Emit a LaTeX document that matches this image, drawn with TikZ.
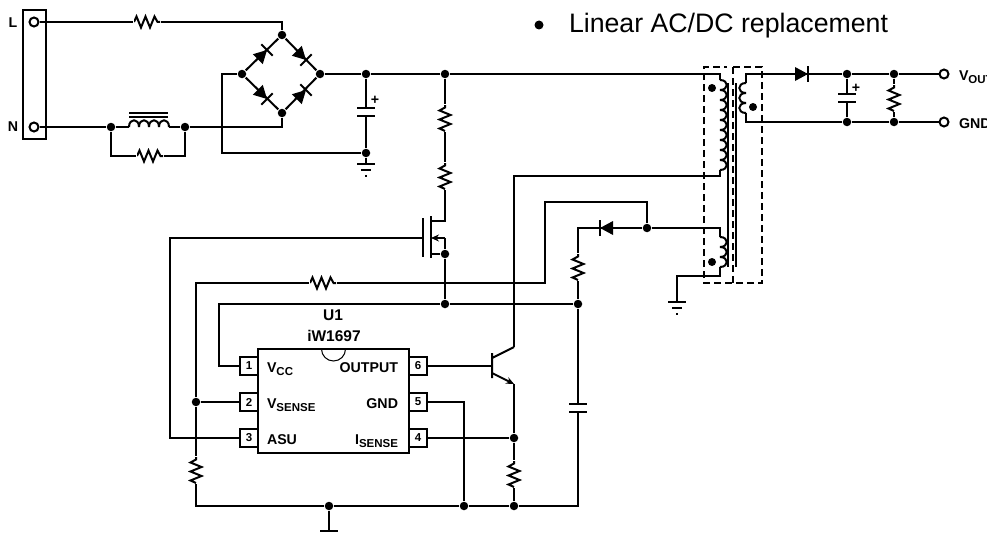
\documentclass[tikz,border=0pt]{standalone}
\usepackage{fontspec}
\usetikzlibrary{arrows.meta}
\setmainfont{Liberation Sans}
\newcommand{\subtxt}[1]{\raisebox{-3.5pt}{\fontsize{11.5}{11.5}\selectfont #1}}
\tikzset{
  dotj/.style={circle,fill=black,inner sep=0pt,minimum size=8.5pt},
  mark dot/.style={circle,fill=black,inner sep=0pt,minimum size=8pt},
  term/.style={circle,draw,inner sep=0pt,minimum size=9pt},
  res/.style={minimum width=26pt,minimum height=16pt,inner sep=0pt,
    path picture={\draw[line width=2pt,shift={(path picture bounding box.center)}]
      (-13,0)--(-10.5,-5.5)--(-6,5.5)--(-1.5,-5.5)--(3,5.5)--(7.5,-5.5)--(10.5,0)--(13,0);}},
  pin/.style={draw,fill=white,inner sep=0pt,minimum size=18pt,font=\fontsize{11.5}{11.5}\bfseries},
  lbl/.style={inner sep=0pt,anchor=base west,font=\fontsize{14.2}{14.2}\bfseries},
  lblr/.style={inner sep=0pt,anchor=base east,font=\fontsize{14.2}{14.2}\bfseries},
  diode/.pic={\fill (-13,-7)--(0,0)--(-13,7)--cycle; \draw (0,-8)--(0,8);},
  capa/.pic={\draw (-9,-4.2)--(9,-4.2) (-9,4.2)--(9,4.2);},
  gnd/.pic={\draw (-9,0)--(9,0) (-5,6)--(5,6) (-1,12)--(1,12);},
  coil/.pic={\foreach \k in {1,...,#1}{\draw (0,{(\k-1)*\coilstep}) .. controls +(\coilbulge,0) and +(\coilbulge,0) .. +(0,\coilstep);}},
}
\newcommand{\coilstep}{10}
\newcommand{\coilbulge}{9}
\begin{document}
\begin{tikzpicture}[x=1pt,y=-1pt,>={Stealth[length=8pt,width=7pt]},line width=2pt]
\useasboundingbox (0,0) rectangle (987,535);

\node[circle,fill=black,inner sep=0pt,minimum size=9pt] (bul) at (539,25) {};
\node[inner sep=0pt,anchor=base west,font=\fontsize{26.7}{27}\selectfont] (title) at (568,33) {Linear AC/DC replacement};

\node[draw,minimum width=23pt,minimum height=129pt,inner sep=0pt] (strip) at (34.5,74.5) {};
\node[term] (tl) at (34,22) {};
\node[term] (tn) at (34,127) {};
\node[term] (tv) at (944,74) {};
\node[term] (tg) at (944,122) {};
\node[lbl,anchor=center] (ll) at (13,23) {L};
\node[lbl,anchor=center] (ln) at (13,127) {N};
\node[lbl] (lv) at (958,80) {V\subtxt{OUT}};
\node[lbl] (lg) at (958,128) {GND};
\node[lbl,anchor=center] (p1) at (375,100) {+};
\node[lbl,anchor=center] (p2) at (856,88) {+};

\foreach \nm/\xx/\yy in {jt/282/35,jr/320/74,jb/282/113,jl/242/74,ja/111/127,jc/185/127,jd/366/74,je/366/153,
  jf/445/74,jg/445/254,jh/445/304,ji/578/304,jk/647/228,jm/196/402,jn/514/438,jo/329/506,jp/464/506,jq/514/506,
  js/847/74,ju/894/74,jv/847/122,jw/894/122}
  \node[dotj] (\nm) at (\xx,\yy) {};

\node[res] (r1) at (147,22) {};
\node[res] (r2) at (150,156) {};
\node[res,rotate=90] (r3) at (445,118) {};
\node[res,rotate=90] (r4) at (445,176) {};
\node[res] (r5) at (323,283) {};
\node[res,rotate=90] (r6) at (196,470) {};
\node[res,rotate=90] (r7) at (578,267) {};
\node[res,rotate=90] (r8) at (514,474) {};
\node[res,rotate=90] (r9) at (894,98) {};

\coordinate (l1a) at (129,127);
\coordinate (l1b) at (169,127);
\coordinate (k1) at (222,153);
\coordinate (c1t) at (366,108);
\coordinate (c1b) at (366,116.5);
\coordinate (g1) at (366,164);
\coordinate (p1t) at (720,80);
\coordinate (p1b) at (720,170);
\coordinate (p1e) at (720,176);
\coordinate (s1) at (746,74);
\coordinate (st) at (746,83);
\coordinate (sb) at (746,113);
\coordinate (s2) at (746,122);
\coordinate (p3t) at (720,237);
\coordinate (p3b) at (720,267);
\coordinate (p3c) at (720,228);
\coordinate (p3e) at (720,276);
\coordinate (g2) at (677,302);
\coordinate (g3) at (329,531);
\coordinate (c2t) at (847,94);
\coordinate (c2b) at (847,102);
\coordinate (c3t) at (578,404);
\coordinate (c3b) at (578,412);
\coordinate (k2) at (578,228);
\coordinate (k3) at (578,506);
\coordinate (k4) at (545,202);
\coordinate (k5) at (170,438);
\coordinate (k6) at (219,366);
\coordinate (md) at (431,221);
\coordinate (md2) at (445,221);
\coordinate (ms) at (431,238);
\coordinate (ms2) at (445,238);
\coordinate (mo) at (431,254);
\coordinate (mg) at (423,238);
\coordinate (qb) at (492,366);
\coordinate (qc1) at (492,358);
\coordinate (qc) at (514,347);
\coordinate (qe1) at (492,373);
\coordinate (qe) at (514,384);

\node[draw,minimum width=151pt,minimum height=104pt,inner sep=0pt] (ic) at (333.5,401) {};
\foreach \nn/\yy in {1/366,2/402,3/438}
  \node[pin] (pin\nn) at (249,\yy) {\nn};
\foreach \nn/\yy in {6/366,5/402,4/438}
  \node[pin] (pin\nn) at (418,\yy) {\nn};
\draw[line width=1pt] (321.5,349) arc (180:0:12);

\node[lblr,anchor=center,font=\fontsize{15.5}{15.5}\bfseries] (u1) at (333,315) {U1};
\node[lblr,anchor=center,font=\fontsize{15.5}{15.5}\bfseries] (u2) at (334,336) {iW1697};
\node[lbl] (vcc) at (266,372) {V\subtxt{CC}};
\node[lbl] (vse) at (266,408) {V\subtxt{SENSE}};
\node[lbl] (asu) at (266,444) {ASU};
\node[lblr] (out) at (399,372) {OUTPUT};
\node[lblr] (gnd5) at (399,408) {GND};
\node[lblr] (ise) at (399,444) {I\subtxt{SENSE}};

\draw (tl) -- (r1) -| (jt);
\draw (tn) -- (ja) -- (l1a);
\draw (l1b) -- (jc) -| (jb);
\draw (ja) |- (r2) -| (jc);
\draw (jl) -- (jt) -- (jr) -- (jb) -- (jl);
\draw (jl) -| (k1) -- (je);
\draw (jr) -- (jd) -- (jf) -| (p1t);
\draw (jd) -- (c1t) (c1b) -- (je) -- (g1);
\draw (jf) -- (r3) -- (r4) -- (md2) -- (md);
\draw (431,216) -- (431,258) (423,218) -- (423,257);
\draw[<-] (ms) -- (ms2);
\draw (ms2) -- (jg);
\draw (mo) -- (jg) -- (jh);
\draw (mg) -| (k5) -- (pin3);
\draw (jh) -- (ji);
\draw (jh) -| (k6) -- (pin1);
\draw (jm) |- (r5);
\draw (r5) -| (k4) -| (jk);
\draw (jm) -- (pin2);
\draw (jm) -- (r6) |- (jo);
\draw (jo) -- (jp) -- (jq) -- (k3) -- (c3b) (c3t) -- (ji);
\draw (ji) -- (r7) -- (k2) -- (jk) -- (p3c) -- (p3t);
\draw (p3b) -- (p3e) -| (g2);
\draw (jo) -- (g3);
\draw (g3) ++(-9,0) -- ++(18,0);
\draw (p1b) -- (p1e) -| (qc);
\draw (qc) -- (qc1) (492,353) -- (492,378);
\draw (pin6) -- (qb);
\draw[->] (qe1) -- (qe);
\draw (qe) -- (jn) -- (r8) -- (jq);
\draw (pin4) -- (jn);
\draw (pin5) -| (jp);
\draw (st) -- (s1) -- (js) -- (ju) -- (tv);
\draw (sb) -- (s2) -- (jv) -- (jw) -- (tg);
\draw (js) -- (c2t) (c2b) -- (jv);
\draw (ju) -- (r9) -- (jw);

\path (366,112.2) pic {capa};
\path (847,98) pic {capa};
\path (578,408) pic {capa};
\path (g1) pic {gnd};
\path (g2) pic {gnd};
\path (267,50) pic[rotate=45] {diode};
\path (306,60) pic[rotate=-45] {diode};
\path (267,99) pic[rotate=-45] {diode};
\path (306,90) pic[rotate=45] {diode};
\path (808,74) pic {diode};
\path (600,228) pic[rotate=180] {diode};

\path (p1t) pic {coil=9};
\path (p3t) pic {coil=3};
\path (st) pic[xscale=-1] {coil=3};
\path (l1a) pic[rotate=90] {coil=4};

\draw (129,112.5) -- (168,112.5) (129,117) -- (168,117);
\draw (728,83) -- (728,267) (736,83) -- (736,267);
\draw[dash pattern=on 7pt off 4pt] (733,67) -- (762,67) -- (762,283) -- (704,283) -- (704,67) -- (727,67);
\draw[dash pattern=on 7pt off 4pt] (733,67) -- (733,283);
\node[mark dot] (d1) at (712,88) {};
\node[mark dot] (d2) at (753,107) {};
\node[mark dot] (d3) at (712,262) {};
\end{tikzpicture}
\end{document}
